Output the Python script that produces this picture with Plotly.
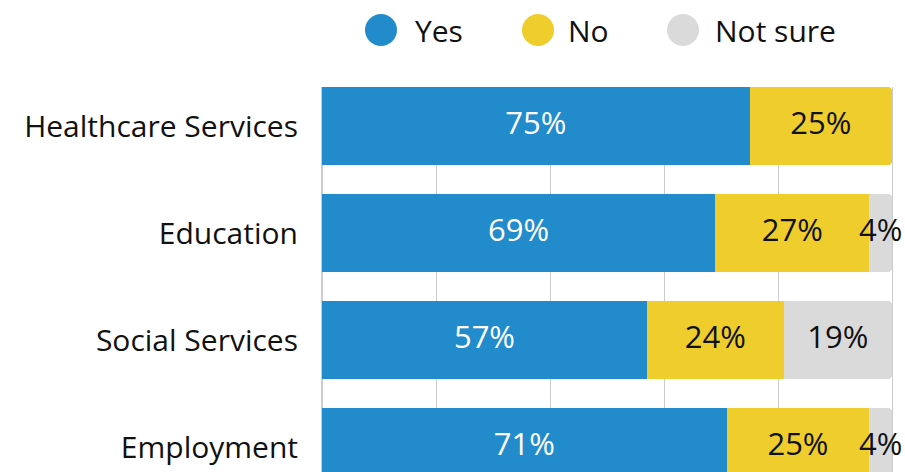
import plotly.graph_objects as go

# Survey results: share of respondents per service area
categories = ["Healthcare Services", "Education", "Social Services", "Employment"]
yes_vals = [75, 69, 57, 71]
no_vals = [25, 27, 24, 25]
unsure_vals = [0, 4, 19, 4]

series = [
    ("Yes", yes_vals, "#228BCC", "white"),
    ("No", no_vals, "#EFCD2C", "#111111"),
    ("Not sure", unsure_vals, "#DADADA", "#111111"),
]

W, H = 905, 472
ML, MR, MT, MB = 322, 13, 87, 0
PW, PH = W - ML - MR, H - MT - MB
FONT = "Open Sans"
FS = 30


def px_x(p):
    return (p - ML) / PW


def px_y(p):
    return 1 + (MT - p) / PH


fig = go.Figure()
offsets = [0] * len(categories)
for name, vals, color, tcolor in series:
    fig.add_trace(go.Bar(
        name=name,
        y=categories,
        x=vals,
        orientation="h",
        marker=dict(color=color, line=dict(width=0)),
        showlegend=False,
        hoverinfo="skip",
    ))
    # value labels centred on each segment, allowed to spill past narrow ones
    mids = [o + v / 2 for o, v in zip(offsets, vals)]
    fig.add_trace(go.Scatter(
        x=mids,
        y=categories,
        mode="text",
        text=[f"{v}%" if v else "" for v in vals],
        textposition="middle center",
        textfont=dict(family=FONT, size=FS + 1, color=tcolor),
        cliponaxis=False,
        showlegend=False,
        hoverinfo="skip",
    ))
    offsets = [o + v for o, v in zip(offsets, vals)]

# Legend row: filled circles followed by labels
legend_items = [("Yes", 381, 415), ("No", 538, 568), ("Not sure", 683, 715)]
shapes, annotations = [], []
for (name, cx, tx), (_, _, color, _) in zip(legend_items, series):
    r = 16
    shapes.append(dict(
        type="circle", xref="paper", yref="paper",
        x0=px_x(cx - r), x1=px_x(cx + r), y0=px_y(30 + r), y1=px_y(30 - r),
        fillcolor=color, line=dict(width=0),
    ))
    annotations.append(dict(
        text=name, xref="paper", yref="paper", x=px_x(tx - 2), y=px_y(31),
        xanchor="left", yanchor="middle", showarrow=False,
        font=dict(family=FONT, size=FS, color="#111111"),
    ))

fig.update_layout(
    width=W, height=H,
    margin=dict(l=ML, r=MR, t=MT, b=MB),
    barmode="stack",
    bargap=0.27,
    barcornerradius=4,
    plot_bgcolor="white",
    paper_bgcolor="white",
    font=dict(family=FONT, color="#111111"),
    shapes=shapes,
    annotations=annotations,
    xaxis=dict(
        range=[0, 100], tick0=0, dtick=20, showgrid=True,
        gridcolor="#CCCCCC", gridwidth=1,
        zeroline=True, zerolinecolor="#CCCCCC", zerolinewidth=1,
        showticklabels=False, showline=False, fixedrange=True,
        layer="below traces",
    ),
    yaxis=dict(
        categoryorder="array", categoryarray=categories,
        range=[3.233, -0.365], showgrid=False, zeroline=False,
        showline=True, mirror=True, linecolor="#CCCCCC", linewidth=1,
        layer="below traces",
        ticks="", ticklabelstandoff=17,
        tickfont=dict(family=FONT, size=FS, color="#111111"),
        fixedrange=True,
    ),
)

fig.write_html("out.html", config={"displayModeBar": False})
